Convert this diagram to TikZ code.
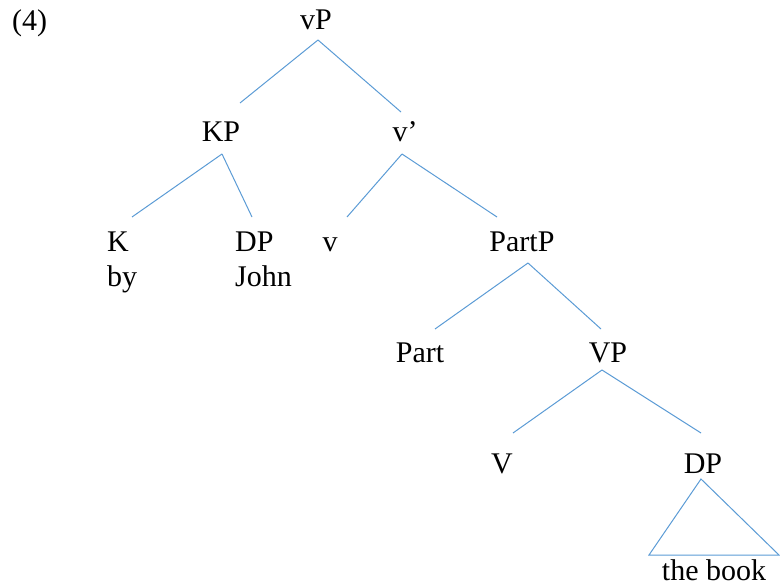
\documentclass[tikz,border=0pt]{standalone}
\usepackage{fontspec}
\setmainfont{Liberation Serif}
\definecolor{branch}{RGB}{91,155,213}
\begin{document}
\begin{tikzpicture}[x=1pt,y=-1pt,
  lbl/.style={font=\fontsize{30}{35}\selectfont, inner sep=0pt, anchor=base},
  lblw/.style={lbl, anchor=base west},
  br/.style={draw=branch, line width=1pt}]
\useasboundingbox (0,0) rectangle (780,586);

% example number
\node[lblw] (num) at (12,31) {(4)};

% labels of the tree
\node[lbl]  (vP)    at (316,30)  {vP};
\node[lbl]  (KP)    at (221,142) {KP};
\node[lbl]  (vbar)  at (405,142) {v’};
\node[lblw] (K)     at (107,251) {K};
\node[lblw] (by)    at (107,286) {by};
\node[lblw] (DPa)   at (235,251) {DP};
\node[lblw] (john)  at (235,286) {John};
\node[lbl]  (v)     at (330,251) {v};
\node[lbl]  (PartP) at (522,251) {PartP};
\node[lbl]  (Part)  at (420,362) {Part};
\node[lbl]  (VP)    at (608,362) {VP};
\node[lbl]  (V)     at (502,473) {V};
\node[lbl]  (DPb)   at (703,473) {DP};
\node[lbl]  (book)  at (714,580) {the book};

% branches
\draw[br] ([shift={(2,10)}]vP.base) -- ([shift={(19,-39)}]KP.base);
\draw[br] ([shift={(2,10)}]vP.base) -- ([shift={(-4,-30)}]vbar.base);
\draw[br] ([shift={(1,12)}]KP.base) -- ([shift={(25,-34)}]K.base west);
\draw[br] ([shift={(1,12)}]KP.base) -- ([shift={(17,-34)}]DPa.base west);
\draw[br] ([shift={(-3,12)}]vbar.base) -- ([shift={(17,-34)}]v.base);
\draw[br] ([shift={(-3,12)}]vbar.base) -- ([shift={(-25,-34)}]PartP.base);
\draw[br] ([shift={(6,12)}]PartP.base) -- ([shift={(15,-33)}]Part.base);
\draw[br] ([shift={(6,12)}]PartP.base) -- ([shift={(-7,-33)}]VP.base);
\draw[br] ([shift={(-6,8)}]VP.base) -- ([shift={(11,-40)}]V.base);
\draw[br] ([shift={(-6,8)}]VP.base) -- ([shift={(-2,-40)}]DPb.base);

% triangle over the phrase
\draw[br] ([shift={(-2,6)}]DPb.base) -- ([shift={(-65,-25)}]book.base)
  -- ([shift={(65,-25)}]book.base) -- cycle;
\end{tikzpicture}
\end{document}
